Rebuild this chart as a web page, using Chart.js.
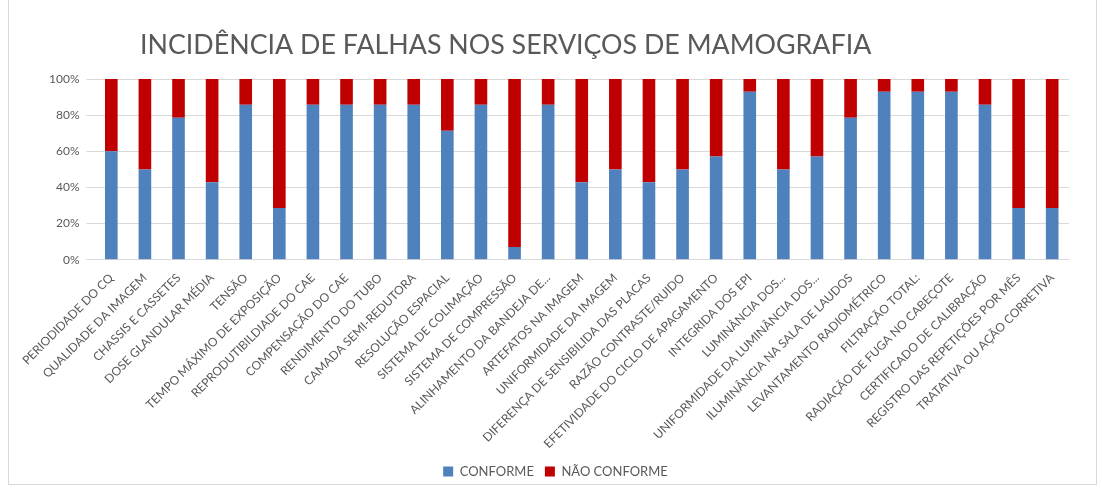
<!DOCTYPE html>
<html>
<head>
<meta charset="utf-8">
<script src="https://cdn.jsdelivr.net/npm/chart.js@4/dist/chart.umd.min.js"></script>
<style>
  html, body { margin: 0; padding: 0; background: #fff; }
  #wrap { position: absolute; left: 8px; top: -1px; width: 1089px; height: 486px; border: 1px solid #d9d9d9; box-sizing: border-box; }
  #box { position: absolute; left: 0; top: 0; width: 1102px; height: 490px; }
</style>
</head>
<body>
<div id="wrap"></div>
<div id="box"><canvas id="falhasChart" width="1102" height="490"></canvas></div>
<script>
const TITLE = 'INCIDÊNCIA DE FALHAS NOS SERVIÇOS DE MAMOGRAFIA';

const categories = [
  'PERIODIDADE DO CQ', 'QUALIDADE DA IMAGEM', 'CHASSIS E CASSETES', 'DOSE GLANDULAR MÉDIA',
  'TENSÃO', 'TEMPO MÁXIMO DE EXPOSIÇÃO', 'REPRODUTIBILDIADE DO CAE', 'COMPENSAÇÃO DO CAE',
  'RENDIMENTO DO TUBO', 'CAMADA SEMI-REDUTORA', 'RESOLUÇÃO ESPACIAL', 'SISTEMA DE COLIMAÇÃO',
  'SISTEMA DE COMPRESSÃO', 'ALINHAMENTO DA BANDEJA DE...', 'ARTEFATOS NA IMAGEM',
  'UNIFORMIDADE DA IMAGEM', 'DIFERENÇA DE SENSIBILIDA DAS PLACAS', 'RAZÃO CONTRASTE/RUIDO',
  'EFETIVIDADE DO CICLO DE APAGAMENTO', 'INTEGRIDA DOS EPI', 'LUMINÂNCIA DOS...',
  'UNIFORMIDADE DA LUMINÂNCIA DOS...', 'ILUMINÂNCIA NA SALA DE LAUDOS', 'LEVANTAMENTO RADIOMÉTRICO',
  'FILTRAÇÃO TOTAL:', 'RADIAÇÃO DE FUGA NO CABEÇOTE', 'CERTIFICADO DE CALIBRAÇÃO',
  'REGISTRO DAS REPETIÇÕES POR MÊS', 'TRATATIVA OU AÇÃO CORRETIVA'
];

// percent of services
const conforme = [60, 50, 78.6, 42.9, 85.7, 28.6, 85.7, 85.7, 85.7, 85.7, 71.4, 85.7, 7.1, 85.7, 42.9,
  50, 42.9, 50, 57.1, 92.9, 50, 57.1, 78.6, 92.9, 92.9, 92.9, 85.7, 28.6, 28.6];
const naoConforme = [40, 50, 21.4, 57.1, 14.3, 71.4, 14.3, 14.3, 14.3, 14.3, 28.6, 14.3, 92.9, 14.3, 57.1,
  50, 57.1, 50, 42.9, 7.1, 50, 42.9, 21.4, 7.1, 7.1, 7.1, 14.3, 71.4, 71.4];

const yTicks = [0, 20, 40, 60, 80, 100];

const FONT = 'Lato, "Open Sans", sans-serif';
const GREY = '#595959';

// title drawn left of centre like the original
const leftTitle = {
  id: 'leftTitle',
  afterDraw(chart) {
    const ctx = chart.ctx;
    ctx.save();
    ctx.font = '26.8px ' + FONT;
    ctx.fillStyle = GREY;
    ctx.textBaseline = 'middle';
    ctx.fillText(TITLE, 140, 45);
    ctx.restore();
  }
};

new Chart(document.getElementById('falhasChart'), {
  type: 'bar',
  data: {
    labels: categories,
    datasets: [
      { label: 'CONFORME', data: conforme, backgroundColor: '#4F81BD', borderWidth: 0 },
      { label: 'NÃO CONFORME', data: naoConforme, backgroundColor: '#C00000', borderWidth: 0 }
    ]
  },
  options: {
    responsive: false,
    animation: false,
    layout: { padding: { top: 79, left: 42, right: 33, bottom: 2 } },
    categoryPercentage: 0.8,
    barPercentage: 0.47,
    plugins: {
      legend: {
        position: 'bottom',
        labels: { boxWidth: 10, boxHeight: 10, color: GREY, font: { family: FONT, size: 13 }, padding: 11 }
      },
      tooltip: { enabled: false }
    },
    scales: {
      x: {
        stacked: true,
        grid: { display: false },
        border: { color: '#d9d9d9' },
        ticks: {
          autoSkip: false, minRotation: 45, maxRotation: 45,
          color: GREY, font: { family: FONT, size: 12 }
        }
      },
      y: {
        stacked: true,
        min: 0, max: 100,
        afterBuildTicks(scale) { scale.ticks = yTicks.map(v => ({ value: v })); },
        grid: { color: '#d9d9d9' },
        border: { display: false },
        ticks: { color: GREY, font: { family: FONT, size: 12 }, padding: 7, callback: v => v + '%' }
      }
    }
  },
  plugins: [leftTitle]
});
</script>
</body>
</html>
